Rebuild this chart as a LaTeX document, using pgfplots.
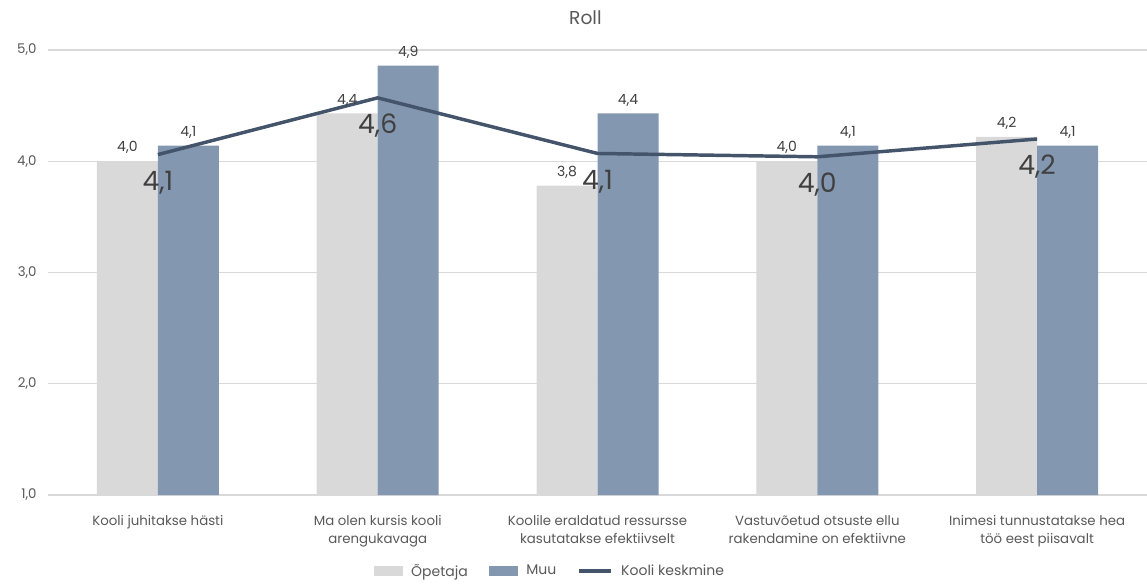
\documentclass[border=0pt]{standalone}
\usepackage{pgfplots}
\pgfplotsset{compat=1.18}
\usepackage{fontspec}
\setmainfont{Poppins}
\definecolor{opet}{HTML}{D9D9D9}
\definecolor{muu}{HTML}{8497B0}
\definecolor{kesk}{HTML}{44546A}
\definecolor{txt}{HTML}{595959}
\definecolor{lbl}{HTML}{404040}
\definecolor{grid}{HTML}{D9D9D9}
\begin{document}
\begin{tikzpicture}
\begin{axis}[
  scale only axis, width=824.25pt, height=333.75pt,
  xmin=-0.5, xmax=4.5, ymin=1, ymax=5,
  /pgf/number format/assume math mode=true,
  ytick={1,2,3,4,5},
  yticklabel={\pgfmathprintnumber[fixed,fixed zerofill,precision=1,use comma,assume math mode=true]{\tick}},
  xtick={0,1,2,3,4},
  xticklabels={{Kooli juhitakse hästi},{Ma olen kursis kooli\\arengukavaga},{Koolile eraldatud ressursse\\kasutatakse efektiivselt},{Vastuvõetud otsuste ellu\\rakendamine on efektiivne},{Inimesi tunnustatakse hea\\töö eest piisavalt}},
  xticklabel style={align=center, font=\fontsize{10}{13.5}\selectfont, text=txt, anchor=north, yshift=-12pt},
  yticklabel style={font=\fontsize{10}{11}\selectfont, text=txt, xshift=-5pt},
  axis line style={draw=none},
  major tick style={draw=none},
  ymajorgrids, grid style={color=grid, line width=1pt},
  title={Roll},
  title style={at={(0.489,1)}, anchor=center, yshift=18.5pt, font=\fontsize{14}{16}\selectfont, text=txt},
  legend columns=3,
  legend style={draw=none, at={(0.457,0)}, anchor=center, yshift=-57pt, font=\fontsize{10.5}{12}\selectfont, text=txt,
    /tikz/every odd column/.append style={column sep=4pt},
    /tikz/every even column/.append style={column sep=14pt}},
]
\addplot[ybar, bar width=45.75pt, bar shift=-22.875pt, fill=opet, draw=none,
  legend image code/.code={\fill[opet] (0pt,-3.5pt) rectangle (22pt,3.5pt);},
  nodes near coords={\pgfmathprintnumber[fixed,fixed zerofill,precision=1,use comma,assume math mode=true]{\pgfplotspointmeta}},
  nodes near coords style={font=\fontsize{10.5}{12}\selectfont, text=lbl, xshift=-22.875pt, yshift=2pt}]
  coordinates {(0,4.00) (1,4.43) (2,3.78) (3,4.00) (4,4.22)};
\addlegendentry{Õpetaja}
\addplot[ybar, bar width=45.75pt, bar shift=22.875pt, fill=muu, draw=none,
  legend image code/.code={\fill[muu] (0pt,-3.5pt) rectangle (22pt,3.5pt);},
  nodes near coords={\pgfmathprintnumber[fixed,fixed zerofill,precision=1,use comma,assume math mode=true]{\pgfplotspointmeta}},
  nodes near coords style={font=\fontsize{10.5}{12}\selectfont, text=lbl, xshift=22.875pt, yshift=2pt}]
  coordinates {(0,4.14) (1,4.86) (2,4.43) (3,4.14) (4,4.14)};
\addlegendentry{Muu}
\addplot[color=kesk, line width=2.6pt, mark=none,
  legend image code/.code={\draw[kesk, line width=2.6pt] (0pt,0pt) -- (24pt,0pt);},
  nodes near coords={\pgfmathprintnumber[fixed,fixed zerofill,precision=1,use comma,assume math mode=true]{\pgfplotspointmeta}},
  nodes near coords style={font=\fontsize{20}{22}\selectfont, text=lbl, anchor=center, yshift=-21pt}]
  coordinates {(0,4.06) (1,4.57) (2,4.07) (3,4.04) (4,4.20)};
\addlegendentry{Kooli keskmine}
\end{axis}
\pgfresetboundingbox
\path (-36pt,-66pt) rectangle (824.25pt,371.25pt);
\end{tikzpicture}
\end{document}
